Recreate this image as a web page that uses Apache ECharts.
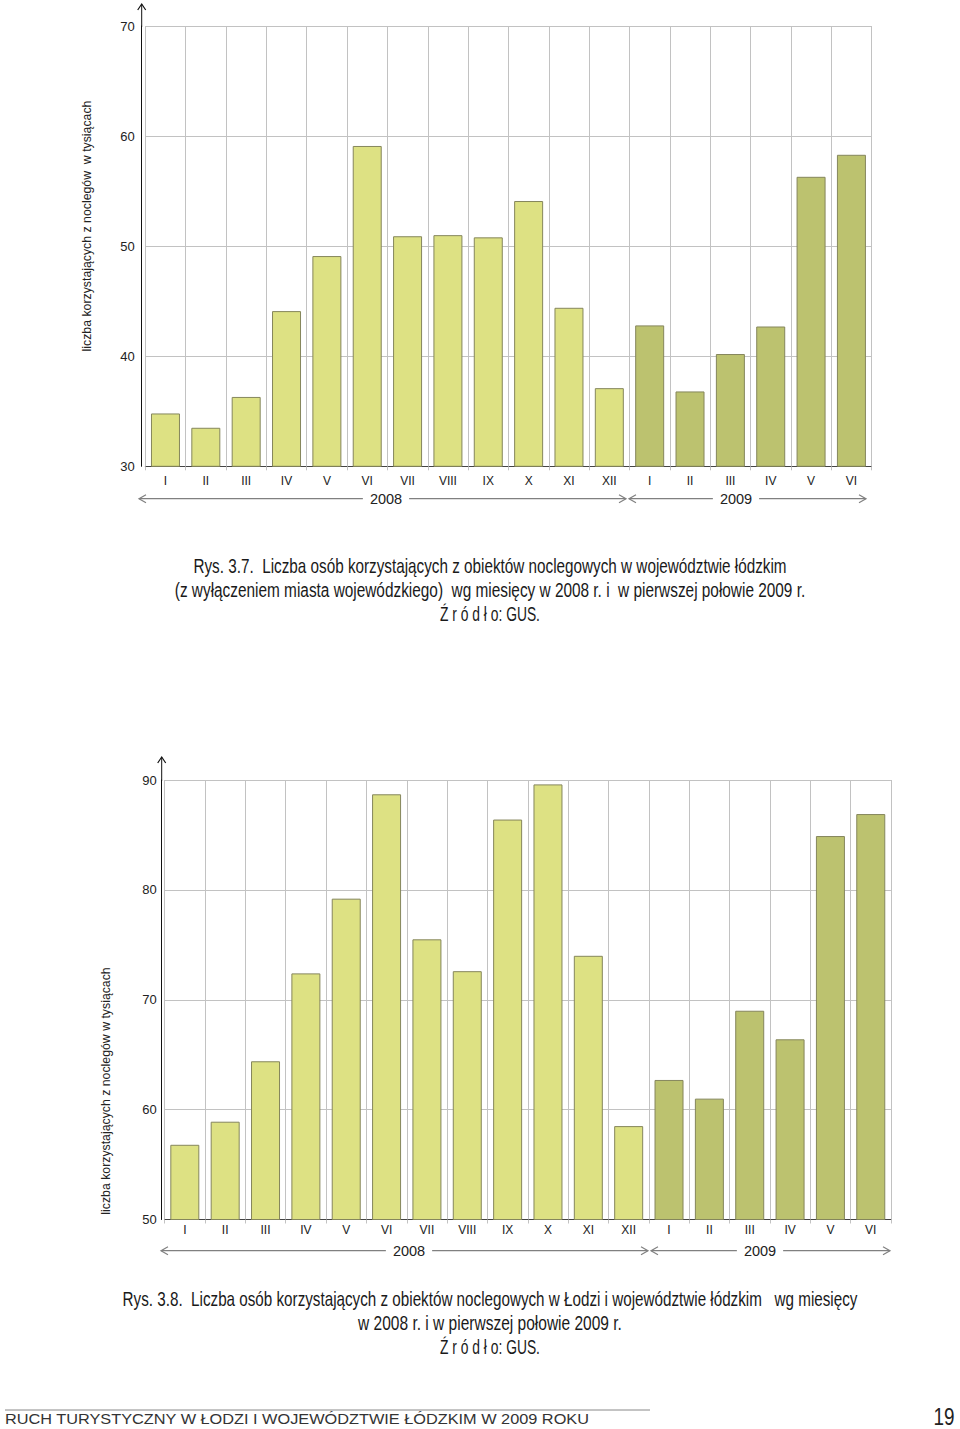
<!DOCTYPE html>
<html>
<head>
<meta charset="utf-8">
<script src="https://cdn.jsdelivr.net/npm/echarts@6/dist/echarts.min.js"></script>
<style>
  html, body { margin: 0; padding: 0; background: #fff; }
  #chart { width: 960px; height: 1429px; }
</style>
</head>
<body>
<div id="chart"></div>
<script>
// month labels, 2008 I-XII then 2009 I-VI
const months = ['I', 'II', 'III', 'IV', 'V', 'VI', 'VII', 'VIII', 'IX', 'X', 'XI', 'XII',
                'I', 'II', 'III', 'IV', 'V', 'VI'];

// Rys. 3.7 - wojewodztwo bez Lodzi (tys.)
const region2008 = [34.8, 33.5, 36.3, 44.1, 49.1, 59.1, 50.9, 51.0, 50.8, 54.1, 44.4, 37.1];
const region2009 = [42.8, 36.8, 40.2, 42.7, 56.3, 58.3];

// Rys. 3.8 - Lodz i wojewodztwo (tys.)
const total2008 = [56.8, 58.9, 64.4, 72.4, 79.2, 88.7, 75.5, 72.6, 86.4, 89.6, 74.0, 58.5];
const total2009 = [62.7, 61.0, 69.0, 66.4, 84.9, 86.9];

const yTicks1 = [30, 40, 50, 60, 70];
const yTicks2 = [50, 60, 70, 80, 90];

const LIGHT = '#dde183';
const DARK = '#bcc26f';
const BORDER = '#85865c';
const GRID = '#c2c2c2';
const FONT = 'Liberation Sans, Arial, sans-serif';

// the book uses a condensed face: squeeze Liberation Sans to the printed width
const measureCtx = document.createElement('canvas').getContext('2d');
function squeeze(text, size, target) {
  measureCtx.font = size + 'px ' + FONT;
  return target / measureCtx.measureText(text).width;
}

// pad a series so 2008 and 2009 share the same 18 slots
const pad = (arr, before, after) =>
  Array(before).fill('-').concat(arr).concat(Array(after).fill('-'));

function xAxisFor(gridIndex, labelMargin) {
  return {
    type: 'category',
    gridIndex: gridIndex,
    data: months,
    boundaryGap: true,
    axisLine: { lineStyle: { color: '#444', width: 1 } },
    axisTick: { show: true, interval: 0, length: 4, lineStyle: { color: GRID } },
    axisLabel: { interval: 0, margin: labelMargin, fontSize: 12, color: '#222', fontFamily: FONT },
    splitLine: { show: true, interval: 0, lineStyle: { color: GRID, width: 1 } }
  };
}

function yAxisFor(gridIndex, ticks, offset, margin) {
  return {
    type: 'value',
    gridIndex: gridIndex,
    min: ticks[0],
    max: ticks[ticks.length - 1],
    interval: ticks[1] - ticks[0],
    offset: offset,
    axisLine: { show: true, lineStyle: { color: '#111', width: 1 } },
    axisTick: { show: false },
    axisLabel: { margin: margin, fontSize: 13, color: '#222', fontFamily: FONT, padding: [0, 0, 10, 0] },
    splitLine: { show: true, lineStyle: { color: GRID, width: 1 } }
  };
}

function barSeries(axisIndex, data, color) {
  return {
    type: 'bar',
    xAxisIndex: axisIndex,
    yAxisIndex: axisIndex,
    data: data,
    barWidth: 29,
    barGap: '-100%',
    itemStyle: { color: color, borderColor: BORDER, borderWidth: 1 },
    silent: true
  };
}

function yearArrow(x1, x2, y, label, cx) {
  const c = '#808080';
  return [
    { type: 'line', shape: { x1: x1, y1: y, x2: x2, y2: y }, style: { stroke: c, lineWidth: 1.2 } },
    { type: 'polyline', shape: { points: [[x1 + 7, y - 4], [x1, y], [x1 + 7, y + 4]] }, style: { stroke: c, lineWidth: 1.2, fill: null } },
    { type: 'polyline', shape: { points: [[x2 - 7, y - 4], [x2, y], [x2 - 7, y + 4]] }, style: { stroke: c, lineWidth: 1.2, fill: null } },
    { type: 'text', x: cx, y: y, z: 10, style: { text: label, fontSize: 14.5, fontFamily: FONT, fill: '#222',
      align: 'center', verticalAlign: 'middle', backgroundColor: '#fff', padding: [0, 7] } }
  ];
}

function yArrow(x, yTop, yTip) {
  return [
    { type: 'line', shape: { x1: x, y1: yTop, x2: x, y2: yTip }, style: { stroke: '#111', lineWidth: 1 } },
    { type: 'polyline', shape: { points: [[x - 4, yTip + 6], [x, yTip], [x + 4, yTip + 6]] }, style: { stroke: '#111', lineWidth: 1.2, fill: null } }
  ];
}

// lines: [text, printed width]
function caption(lines, y0, step) {
  return lines.map((l, i) => ({
    type: 'text', x: 490, y: y0 + i * step, scaleX: squeeze(l[0], 20, l[1]),
    style: { text: l[0], fontSize: 20, fontFamily: FONT, fill: '#1a1a1a', align: 'center', verticalAlign: 'middle' }
  }));
}

function axisName(text, x, y) {
  return {
    type: 'text', x: x, y: y, rotation: Math.PI / 2,
    style: { text: text, fontSize: 12.3, fontFamily: FONT, fill: '#222', align: 'center', verticalAlign: 'middle' }
  };
}

const footer = 'RUCH TURYSTYCZNY W ŁODZI I WOJEWÓDZTWIE ŁÓDZKIM W 2009 ROKU';

const graphics = [].concat(
  yArrow(141.7, 27, 4),
  yArrow(161.7, 781, 757),
  yearArrow(139, 626, 498.7, '2008', 386),
  yearArrow(629, 866, 498.7, '2009', 736),
  yearArrow(161, 648, 1250.7, '2008', 409),
  yearArrow(651, 890, 1250.7, '2009', 760),
  [axisName('liczba korzystających z noclegów  w tysiącach', 87, 226),
   axisName('liczba korzystających z noclegów w tysiącach', 106, 1091)],
  caption([['Rys. 3.7.  Liczba osób korzystających z obiektów noclegowych w województwie łódzkim', 594],
           ['(z wyłączeniem miasta wojewódzkiego)  wg miesięcy w 2008 r. i  w pierwszej połowie 2009 r.', 631],
           ['Ź r ó d ł o: GUS.', 100]], 566, 24),
  caption([['Rys. 3.8.  Liczba osób korzystających z obiektów noclegowych w Łodzi i województwie łódzkim   wg miesięcy', 735],
           ['w 2008 r. i w pierwszej połowie 2009 r.', 264],
           ['Ź r ó d ł o: GUS.', 100]], 1299, 24),
  [
    { type: 'line', shape: { x1: 5, y1: 1410, x2: 650, y2: 1410 }, style: { stroke: '#888', lineWidth: 1 } },
    { type: 'text', x: 5, y: 1419, scaleX: squeeze(footer, 15, 585),
      style: { text: footer, fontSize: 15, fontFamily: FONT, fill: '#333', align: 'left', verticalAlign: 'middle' } },
    { type: 'text', x: 944, y: 1417, scaleX: squeeze('19', 23, 21),
      style: { text: '19', fontSize: 23, fontFamily: FONT, fill: '#222', align: 'center', verticalAlign: 'middle' } }
  ]
);

const option = {
  animation: false,
  backgroundColor: '#fff',
  grid: [
    { left: 145.3, top: 26, width: 726.3, height: 440.3 },
    { left: 164.65, top: 780, width: 726.3, height: 439.5 }
  ],
  xAxis: [xAxisFor(0, 9), xAxisFor(1, 4)],
  yAxis: [yAxisFor(0, yTicks1, 3.6, 7), yAxisFor(1, yTicks2, 3, 5)],
  series: [
    barSeries(0, pad(region2008, 0, 6), LIGHT),
    barSeries(0, pad(region2009, 12, 0), DARK),
    barSeries(1, pad(total2008, 0, 6), LIGHT),
    barSeries(1, pad(total2009, 12, 0), DARK)
  ],
  graphic: graphics
};

const myChart = echarts.init(document.getElementById('chart'), null, { renderer: 'svg' });
myChart.setOption(option);
</script>
</body>
</html>
